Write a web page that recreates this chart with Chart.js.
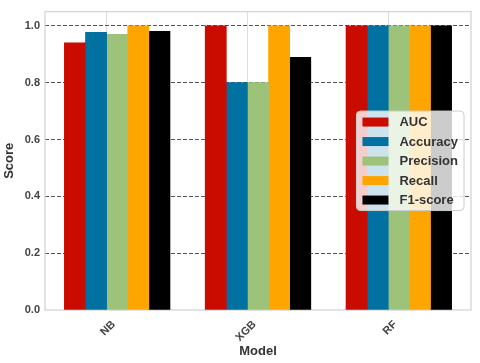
<!DOCTYPE html>
<html lang="en">
  <head>
    <meta charset="UTF-8" />
    <title>Model scores</title>
    <script src="https://cdn.jsdelivr.net/npm/chart.js"></script>
    <style>
      html, body { margin: 0; padding: 0; background: #fff; }
      .chart-box { width: 480px; height: 363px; }
    </style>
  </head>
  <body>
    <div class="chart-box"><canvas id="scoreChart"></canvas></div>
    <script>
      const models = ["NB", "XGB", "RF"];
      const metrics = ["AUC", "Accuracy", "Precision", "Recall", "F1-score"];
      const auc = [0.94, 1.0, 1.0];
      const accuracy = [0.977, 0.8, 1.0];
      const precision = [0.97, 0.8, 1.0];
      const recall = [1.0, 1.0, 1.0];
      const f1 = [0.981, 0.889, 1.0];
      const scoreTicks = [0, 0.2, 0.4, 0.6, 0.8, 1.0];

      const metricValues = [auc, accuracy, precision, recall, f1];
      const colors = ["#c90b00", "#0071a1", "#9dc37a", "#ffa500", "#000000"];
      const barWidth = 0.15; // bar width in x units (matplotlib style)
      const FONT = "'Liberation Sans', Arial, sans-serif";

      // bars sit next to each other, left edge of the 3rd bar on the tick
      const datasets = metrics.map((name, j) => ({
        label: name,
        backgroundColor: colors[j],
        borderWidth: 0,
        grouped: false,
        barPercentage: 1,
        categoryPercentage: 1,
        data: metricValues[j].map((v, i) => ({ x: i + (j - 2) * barWidth + barWidth / 2, y: v })),
      }));

      // light grey frame round the plot
      const framePlugin = {
        id: "frame",
        beforeDatasetsDraw(chart) {
          const { ctx, chartArea: a } = chart;
          ctx.save();
          ctx.strokeStyle = "#d4d4d4";
          ctx.lineWidth = 1.3;
          ctx.strokeRect(a.left, a.top, a.right - a.left, a.bottom - a.top);
          ctx.restore();
        },
      };

      // legend box, center right inside the plot
      const boxLegend = {
        id: "boxLegend",
        afterDraw(chart) {
          const { ctx, chartArea: a } = chart;
          const sets = chart.data.datasets;
          ctx.save();
          ctx.font = "bold 13px " + FONT;
          let maxW = 0;
          sets.forEach((d) => (maxW = Math.max(maxW, ctx.measureText(d.label).width)));
          const rowH = 19.5;
          const w = 43 + maxW + 6;
          const h = rowH * sets.length + 2;
          const x = a.right - 7 - w;
          const y = (a.top + a.bottom) / 2 - h / 2;
          ctx.beginPath();
          ctx.roundRect(x, y, w, h, 4);
          ctx.fillStyle = "rgba(255,255,255,0.8)";
          ctx.fill();
          ctx.strokeStyle = "#cccccc";
          ctx.lineWidth = 1;
          ctx.stroke();
          ctx.textBaseline = "middle";
          sets.forEach((d, k) => {
            const cy = y + 11 + k * rowH;
            ctx.fillStyle = d.backgroundColor;
            ctx.fillRect(x + 6, cy - 4.5, 26, 9);
            ctx.fillStyle = "#333";
            ctx.fillText(d.label, x + 43, cy + 0.5);
          });
          ctx.restore();
        },
      };

      new Chart(document.getElementById("scoreChart"), {
        type: "bar",
        data: { datasets },
        plugins: [framePlugin, boxLegend],
        options: {
          responsive: true,
          maintainAspectRatio: false,
          animation: false,
          layout: { padding: { top: 10, right: 9, left: 0, bottom: 0 } },
          plugins: {
            legend: { display: false },
            tooltip: { enabled: false },
          },
          scales: {
            x: {
              type: "linear",
              offset: false,
              min: -0.4375,
              max: 2.5875,
              afterBuildTicks: (s) => {
                s.ticks = models.map((m, i) => ({ value: i }));
              },
              afterFit: (s) => {
                s.height = 53;
              },
              grid: { offset: false, color: "#dedede", lineWidth: 1, drawTicks: false },
              border: { display: false },
              ticks: {
                callback: (v) => models[v],
                minRotation: 45,
                maxRotation: 45,
                padding: 8,
                labelOffset: 7,
                color: "#444",
                font: { family: FONT, size: 11, weight: "bold" },
              },
              title: {
                display: true,
                text: "Model",
                color: "#333",
                padding: { top: 0, bottom: 4 },
                font: { family: FONT, size: 13, weight: "bold" },
              },
            },
            y: {
              min: 0,
              max: 1.05,
              afterBuildTicks: (s) => {
                s.ticks = scoreTicks.map((v) => ({ value: v }));
              },
              afterFit: (s) => {
                s.width = 45;
              },
              grid: {
                color: (c) => (c.tick && c.tick.value === 0 ? "rgba(0,0,0,0)" : "#555"),
                lineWidth: 1.1,
                drawTicks: false,
              },
              border: { display: false, dash: [4, 2] },
              ticks: {
                callback: (v) => v.toFixed(1),
                padding: 5,
                color: "#444",
                font: { family: FONT, size: 11, weight: "bold" },
              },
              title: {
                display: true,
                text: "Score",
                color: "#333",
                padding: { top: 2, bottom: 0 },
                font: { family: FONT, size: 13, weight: "bold" },
              },
            },
          },
        },
      });
    </script>
  </body>
</html>
